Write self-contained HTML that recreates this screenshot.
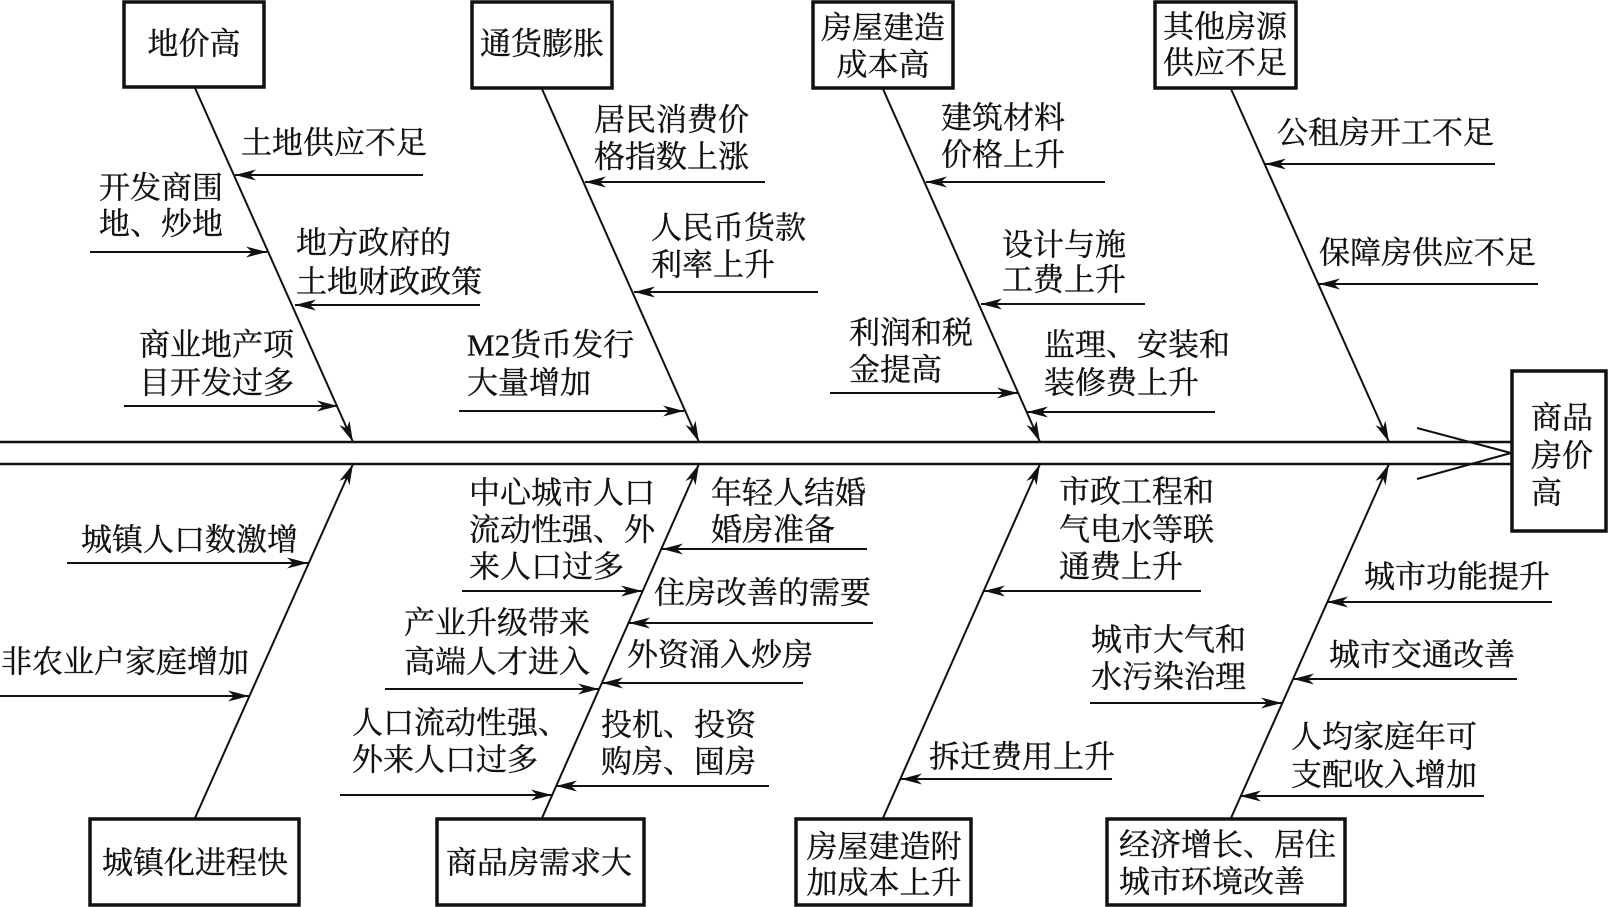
<!DOCTYPE html>
<html>
<head>
<meta charset="utf-8">
<style>
  html,body{margin:0;padding:0;background:#fff;}
  svg{display:block;}
  text{font-family:"Liberation Serif","Noto Serif CJK SC","Noto Sans CJK SC",serif;font-size:31px;fill:#111;stroke:#111;stroke-width:0.35;dominant-baseline:central;}
</style>
</head>
<body>
<svg width="1609" height="907" viewBox="0 0 1609 907" xmlns="http://www.w3.org/2000/svg">
<defs>
  <marker id="a" viewBox="-22 -7 24 14" refX="0" refY="0" markerWidth="24" markerHeight="14" markerUnits="userSpaceOnUse" orient="auto">
    <path d="M0,0 L-21,-5.5 L-15,0 L-21,5.5 Z" fill="#111"/>
  </marker>
</defs>

<!-- spine -->
<g stroke="#111" stroke-width="2.5" fill="none">
  <line x1="0" y1="442" x2="1511" y2="442"/>
  <line x1="0" y1="464" x2="1511" y2="464"/>
  <line x1="1417" y1="428" x2="1511" y2="453" stroke-width="2"/>
  <line x1="1417" y1="479" x2="1511" y2="453" stroke-width="2"/>
</g>

<!-- boxes -->
<g stroke="#111" stroke-width="3.5" fill="none">
  <rect x="1512" y="371" width="94" height="160"/>
  <rect x="124" y="2" width="140" height="85"/>
  <rect x="472" y="2" width="140" height="86"/>
  <rect x="813" y="2" width="140" height="86"/>
  <rect x="1155" y="2" width="141" height="86"/>
  <rect x="90" y="819" width="209" height="86"/>
  <rect x="437" y="819" width="207" height="86"/>
  <rect x="796" y="819" width="175" height="86"/>
  <rect x="1107" y="819" width="238" height="86"/>
</g>

<!-- bones -->
<g stroke="#111" stroke-width="2" fill="none" marker-end="url(#a)">
  <line x1="195" y1="88" x2="353" y2="442"/>
  <line x1="542" y1="89" x2="699" y2="442"/>
  <line x1="883" y1="89" x2="1040" y2="442"/>
  <line x1="1231" y1="89" x2="1389" y2="442"/>
  <line x1="195" y1="818" x2="353" y2="464"/>
  <line x1="542" y1="818" x2="699" y2="464"/>
  <line x1="883" y1="818" x2="1040" y2="464"/>
  <line x1="1231" y1="818" x2="1389" y2="464"/>
</g>

<!-- sub arrows -->
<g stroke="#111" stroke-width="2" fill="none" marker-end="url(#a)">
  <!-- B1 -->
  <line x1="423" y1="175" x2="235" y2="175"/>
  <line x1="90" y1="252" x2="267" y2="252"/>
  <line x1="480" y1="305" x2="295" y2="305"/>
  <line x1="124" y1="406" x2="338" y2="406"/>
  <!-- B2 -->
  <line x1="765" y1="182" x2="585" y2="182"/>
  <line x1="818" y1="292" x2="634" y2="292"/>
  <line x1="459" y1="411" x2="684" y2="411"/>
  <!-- B3 -->
  <line x1="1105" y1="182" x2="926" y2="182"/>
  <line x1="1145" y1="304" x2="981" y2="304"/>
  <line x1="830" y1="393" x2="1018" y2="393"/>
  <line x1="1215" y1="412" x2="1027" y2="412"/>
  <!-- B4 -->
  <line x1="1495" y1="164" x2="1265" y2="164"/>
  <line x1="1538" y1="284" x2="1319" y2="284"/>
  <!-- B5 -->
  <line x1="67" y1="563" x2="308" y2="563"/>
  <line x1="0" y1="696" x2="249" y2="696"/>
  <!-- B6 -->
  <line x1="462" y1="591" x2="642" y2="591"/>
  <line x1="867" y1="549" x2="662" y2="549"/>
  <line x1="873" y1="623" x2="629" y2="623"/>
  <line x1="385" y1="689" x2="599" y2="689"/>
  <line x1="803" y1="683" x2="602" y2="683"/>
  <line x1="340" y1="795" x2="552" y2="795"/>
  <line x1="769" y1="786" x2="556" y2="786"/>
  <!-- B7 -->
  <line x1="1201" y1="591" x2="984" y2="591"/>
  <line x1="1090" y1="703" x2="1282" y2="703"/>
  <line x1="1112" y1="779" x2="901" y2="779"/>
  <!-- B8 -->
  <line x1="1552" y1="602" x2="1327" y2="602"/>
  <line x1="1517" y1="679" x2="1293" y2="679"/>
  <line x1="1484" y1="796" x2="1240" y2="796"/>
</g>

<!-- box texts -->
<text x="194" y="44" text-anchor="middle">地价高</text>
<text x="542" y="44" text-anchor="middle">通货膨胀</text>
<text x="883" y="28" text-anchor="middle">房屋建造</text>
<text x="883" y="65" text-anchor="middle">成本高</text>
<text x="1225" y="27" text-anchor="middle">其他房源</text>
<text x="1225" y="63" text-anchor="middle">供应不足</text>
<text x="1531" y="418">商品</text>
<text x="1531" y="456">房价</text>
<text x="1531" y="493">高</text>
<text x="195" y="863" text-anchor="middle">城镇化进程快</text>
<text x="539" y="863" text-anchor="middle">商品房需求大</text>
<text x="884" y="847" text-anchor="middle">房屋建造附</text>
<text x="884" y="883" text-anchor="middle">加成本上升</text>
<text x="1119" y="845">经济增长、居住</text>
<text x="1119" y="882">城市环境改善</text>

<!-- B1 labels -->
<text x="241" y="143">土地供应不足</text>
<text x="99" y="188">开发商围</text>
<text x="99" y="224">地、炒地</text>
<text x="296" y="243">地方政府的</text>
<text x="296" y="282">土地财政政策</text>
<text x="139" y="345">商业地产项</text>
<text x="139" y="383">目开发过多</text>

<!-- B2 labels -->
<text x="594" y="120">居民消费价</text>
<text x="594" y="157">格指数上涨</text>
<text x="651" y="228">人民币货款</text>
<text x="651" y="265">利率上升</text>
<text x="467" y="345">M2货币发行</text>
<text x="467" y="383">大量增加</text>

<!-- B3 labels -->
<text x="941" y="118">建筑材料</text>
<text x="941" y="155">价格上升</text>
<text x="1002" y="245">设计与施</text>
<text x="1002" y="280">工费上升</text>
<text x="849" y="333">利润和税</text>
<text x="849" y="370">金提高</text>
<text x="1044" y="345">监理、安装和</text>
<text x="1044" y="383">装修费上升</text>

<!-- B4 labels -->
<text x="1277" y="133">公租房开工不足</text>
<text x="1319" y="253">保障房供应不足</text>

<!-- B5 labels -->
<text x="81" y="540">城镇人口数激增</text>
<text x="1" y="662">非农业户家庭增加</text>

<!-- B6 labels -->
<text x="469" y="493">中心城市人口</text>
<text x="469" y="530">流动性强、外</text>
<text x="469" y="567">来人口过多</text>
<text x="711" y="493">年轻人结婚</text>
<text x="711" y="530">婚房准备</text>
<text x="654" y="593">住房改善的需要</text>
<text x="404" y="623">产业升级带来</text>
<text x="404" y="662">高端人才进入</text>
<text x="627" y="655">外资涌入炒房</text>
<text x="352" y="723">人口流动性强、</text>
<text x="352" y="760">外来人口过多</text>
<text x="601" y="725">投机、投资</text>
<text x="601" y="762">购房、囤房</text>

<!-- B7 labels -->
<text x="1059" y="492">市政工程和</text>
<text x="1059" y="530">气电水等联</text>
<text x="1059" y="567">通费上升</text>
<text x="1091" y="640">城市大气和</text>
<text x="1091" y="677">水污染治理</text>
<text x="929" y="757">拆迁费用上升</text>

<!-- B8 labels -->
<text x="1364" y="577">城市功能提升</text>
<text x="1329" y="655">城市交通改善</text>
<text x="1291" y="737">人均家庭年可</text>
<text x="1291" y="775">支配收入增加</text>
</svg>
</body>
</html>
